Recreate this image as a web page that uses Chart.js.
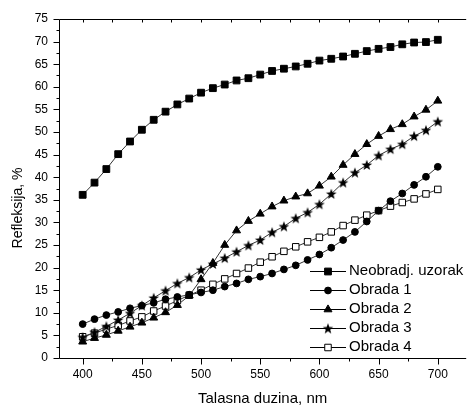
<!DOCTYPE html>
<html><head><meta charset="utf-8">
<script src="https://cdn.jsdelivr.net/npm/chart.js@4.4.0/dist/chart.umd.min.js"></script>
<style>html,body{margin:0;padding:0;background:#fff;}#wrap{width:472px;height:408px;}</style>
</head><body><div id="wrap"><canvas id="c" width="472" height="408"></canvas></div>
<script>
const wavelengths = [400,410,420,430,440,450,460,470,480,490,500,510,520,530,540,550,560,570,580,590,600,610,620,630,640,650,660,670,680,690,700];
const neobradj = [36.1,38.8,41.8,45.1,47.9,50.5,52.7,54.5,56.1,57.4,58.7,59.7,60.5,61.4,61.9,62.7,63.5,64.0,64.5,65.1,65.8,66.2,66.7,67.3,67.9,68.4,68.8,69.4,69.8,69.9,70.4];
const obrada1 = [7.5,8.6,9.5,10.2,11.0,11.6,12.2,13.0,13.5,14.0,14.5,15.0,15.8,16.5,17.4,18.0,18.7,19.6,20.5,21.7,22.9,24.4,26.1,27.9,30.2,32.6,34.7,36.4,38.3,40.1,42.3];
const obrada2 = [3.6,4.4,5.1,6.0,6.9,7.8,8.9,10.1,11.7,13.8,17.4,21.0,25.0,28.2,30.3,31.9,33.5,34.8,35.7,36.4,38.1,40.1,42.7,45.1,47.3,49.1,50.6,51.7,53.4,54.9,56.9];
const obrada3 = [4.6,5.7,7.0,8.4,9.9,11.6,13.3,14.9,16.5,17.8,19.5,20.8,22.1,23.5,24.9,26.1,27.8,29.1,30.9,32.2,34.0,36.3,38.8,41.0,42.7,44.8,46.2,47.3,49.1,50.4,52.3];
const obrada4 = [4.7,5.5,6.4,7.2,8.2,9.1,10.4,11.5,12.7,13.9,15.0,16.3,17.5,18.7,19.9,21.2,22.4,23.6,24.6,25.7,26.7,27.9,29.3,30.5,31.6,32.6,33.6,34.4,35.2,36.3,37.3];
const seriesNames = ['Neobradj. uzorak','Obrada 1','Obrada 2','Obrada 3','Obrada 4'];
const xTickLabels = ['400','450','500','550','600','650','700'];
const yTickLabels = ['0','5','10','15','20','25','30','35','40','45','50','55','60','65','70','75'];
const xMinorTicks = [400,425,450,475,500,525,550,575,600,625,650,675,700];
const yMinorTicks = [0,2.5,5,7.5,10,12.5,15,17.5,20,22.5,25,27.5,30,32.5,35,37.5,40,42.5,45,47.5,50,52.5,55,57.5,60,62.5,65,67.5,70,72.5,75];
const xTitle = 'Talasna duzina, nm';
const yTitle = 'Refleksija, %';

const FONT = '"Liberation Sans", Arial, sans-serif';

// filled five-point star marker
function makeStar(){
  const c = document.createElement('canvas');
  c.width = 12; c.height = 12;
  const g = c.getContext('2d');
  g.fillStyle = '#000';
  g.beginPath();
  for (let i = 0; i < 10; i++) {
    const r = i % 2 === 0 ? 5.6 : 2.3;
    const a = -Math.PI/2 + i*Math.PI/5;
    const px = 6 + r*Math.cos(a), py = 6.4 + r*Math.sin(a);
    if (i === 0) g.moveTo(px, py); else g.lineTo(px, py);
  }
  g.closePath(); g.fill();
  return c;
}
const star = makeStar();

function pts(arr){ return wavelengths.map((w,i)=>({x:w,y:arr[i]})); }
const LINE = '#333';
const datasets = [
  {label:seriesNames[0], data:pts(neobradj), pointStyle:'rect', pointRadius:4.8, pointBackgroundColor:'#000', pointBorderColor:'#000', pointBorderWidth:1},
  {label:seriesNames[1], data:pts(obrada1), pointStyle:'circle', pointRadius:3.4, pointBackgroundColor:'#000', pointBorderColor:'#000', pointBorderWidth:1},
  {label:seriesNames[2], data:pts(obrada2), pointStyle:'triangle', pointRadius:4.6, pointBackgroundColor:'#000', pointBorderColor:'#000', pointBorderWidth:1},
  {label:seriesNames[3], data:pts(obrada3), pointStyle:star, pointRadius:5, pointBackgroundColor:'#000', pointBorderColor:'#000', pointBorderWidth:0},
  {label:seriesNames[4], data:pts(obrada4), pointStyle:'rect', pointRadius:4.6, pointBackgroundColor:'#fff', pointBorderColor:'#000', pointBorderWidth:1}
].map(d=>Object.assign(d,{borderColor:LINE, borderWidth:1, showLine:true, fill:false, tension:0, pointHoverRadius:d.pointRadius}));

const axesPlugin = {
  id:'axesPlugin',
  afterDraw(chart){
    const ctx = chart.ctx, a = chart.chartArea, xs = chart.scales.x, ys = chart.scales.y;
    ctx.save();
    ctx.strokeStyle = '#000'; ctx.lineWidth = 1;
    const L = Math.round(a.left)+0.5, B = Math.round(a.bottom)+0.5, T = Math.round(a.top)+0.5, R = a.right;
    ctx.beginPath();
    ctx.moveTo(L, T); ctx.lineTo(L, B);
    ctx.moveTo(L, B); ctx.lineTo(R, B);
    ctx.moveTo(L, T); ctx.lineTo(R, T);
    yMinorTicks.forEach(v=>{
      const y = Math.round(ys.getPixelForValue(v))+0.5;
      const len = (v % 5 === 0) ? 6 : 3;
      ctx.moveTo(L, y); ctx.lineTo(L-len, y);
    });
    xMinorTicks.forEach(v=>{
      const x = Math.round(xs.getPixelForValue(v))+0.5;
      const len = (v % 50 === 0) ? 6 : 3;
      ctx.moveTo(x, B); ctx.lineTo(x, B+len);
      ctx.moveTo(x, T); ctx.lineTo(x, T+3);
    });
    ctx.stroke();
    // axis titles
    ctx.fillStyle = '#000';
    ctx.font = '15px ' + FONT;
    ctx.textAlign = 'center'; ctx.textBaseline = 'middle';
    ctx.fillText(xTitle, (a.left + a.right)/2, 399);
    ctx.save();
    ctx.translate(18, 208);
    ctx.rotate(-Math.PI/2);
    ctx.font = '14px ' + FONT;
    ctx.fillText(yTitle, 0, 0);
    ctx.restore();
    // legend
    ctx.font = '15px ' + FONT;
    ctx.textAlign = 'left'; ctx.textBaseline = 'middle';
    chart.data.datasets.forEach((d,i)=>{
      const y = 270.5 + i*19;
      ctx.strokeStyle = '#000'; ctx.lineWidth = 1;
      ctx.beginPath(); ctx.moveTo(310, Math.round(y)+0.5); ctx.lineTo(346, Math.round(y)+0.5); ctx.stroke();
      ctx.fillStyle = d.pointBackgroundColor; ctx.strokeStyle = d.pointBorderColor; ctx.lineWidth = d.pointBorderWidth;
      Chart.helpers.drawPoint(ctx, {pointStyle:d.pointStyle, radius:d.pointRadius, borderWidth:d.pointBorderWidth, rotation:0}, 328, Math.round(y)+0.5);
      ctx.fillStyle = '#000';
      ctx.fillText(d.label, 349, y);
    });
    ctx.restore();
  }
};

new Chart(document.getElementById('c'), {
  type:'scatter',
  data:{datasets},
  options:{
    responsive:false, animation:false, devicePixelRatio:1,
    layout:{padding:{top:19,right:0,left:0,bottom:0}},
    plugins:{legend:{display:false}, tooltip:{enabled:false}},
    scales:{
      x:{type:'linear', min:380, max:724,
        afterFit(s){ s.height = 50; },
        afterBuildTicks(s){ s.ticks = xTickLabels.map(t=>({value:Number(t)})); },
        ticks:{autoSkip:false, maxRotation:0, padding:9, color:'#000', font:{family:FONT, size:12}, callback:(v)=>String(v)},
        grid:{display:false, drawTicks:false}, border:{display:false}},
      y:{type:'linear', min:0, max:75,
        afterFit(s){ s.width = 59; },
        afterBuildTicks(s){ s.ticks = yTickLabels.map(t=>({value:Number(t)})); },
        ticks:{autoSkip:false, padding:11, color:'#000', font:{family:FONT, size:12}, callback:(v)=>String(v)},
        grid:{display:false, drawTicks:false}, border:{display:false}}
    }
  },
  plugins:[axesPlugin]
});
</script></body></html>
